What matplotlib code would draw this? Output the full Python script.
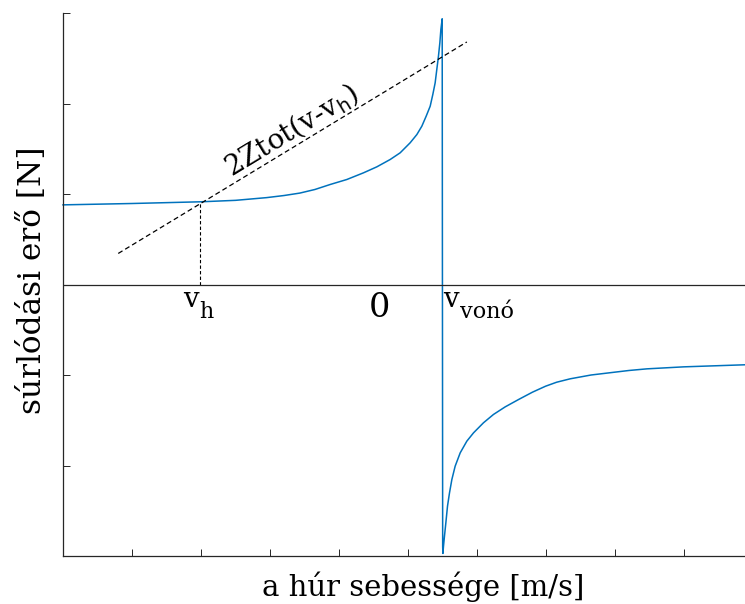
import numpy as np
import matplotlib.pyplot as plt

plt.rcParams['font.family'] = ['DejaVu Serif']

# súrlódási karakterisztika: tapadó ág (v < v_vonó)
v_tapad = [0.0, 1.0, 2.0, 2.5, 2.95, 3.2, 3.43, 3.65, 3.87, 4.111, 4.353, 4.546, 4.739, 4.884,
           5.029, 5.126, 5.198, 5.261, 5.319, 5.357, 5.391, 5.415, 5.439, 5.459, 5.474, 5.493]
F_tapad = [0.88, 0.895, 0.914, 0.93, 0.96, 0.983, 1.01, 1.05, 1.105, 1.160, 1.234, 1.300, 1.381,
           1.455, 1.566, 1.657, 1.749, 1.860, 1.970, 2.099, 2.228, 2.376, 2.523, 2.670, 2.818,
           2.936]
# csúszó ág (v > v_vonó)
v_csusz = [5.50, 5.503, 5.512, 5.526, 5.546, 5.570, 5.599, 5.633, 5.681, 5.754, 5.850, 5.947,
           6.091, 6.236, 6.406, 6.599, 6.80, 6.99, 7.15, 7.348, 7.65, 7.99, 8.2, 8.459, 8.99,
           9.88, 10.43]
F_csusz = [-2.90, -2.972, -2.891, -2.781, -2.634, -2.449, -2.302, -2.155, -2.007, -1.860, -1.731,
           -1.639, -1.528, -1.436, -1.352, -1.271, -1.19, -1.124, -1.08, -1.042, -1.0, -0.969,
           -0.95, -0.932, -0.91, -0.887, -0.88]

# terhelési egyenes 2Ztot(v - v_h)
egyenes_v = [0.80, 5.85]
egyenes_F = [0.343, 2.68]

v_h = 1.99
F_h = 0.914
x_ticks = list(range(0, 11))
y_ticks = list(range(-3, 4))

kek = '#0072BD'
szurke = '#262626'

fig = plt.figure(figsize=(7.45, 6.04), dpi=100)
ax = fig.add_axes([63 / 745, 48 / 604, 720 / 745, 543 / 604])

ax.plot(v_tapad + v_csusz, F_tapad + F_csusz, color=kek, lw=1.1, clip_on=False)
ax.plot(egyenes_v, egyenes_F, color='k', ls=(0, (4, 2.5)), lw=0.9)
ax.plot([v_h, v_h], [0, F_h], color='k', ls=(0, (3, 2)), lw=0.8)
ax.axhline(0, color=szurke, lw=0.9)

ax.set_xlim(0, 10.43)
ax.set_ylim(-3, 3)
ax.set_xticks(x_ticks)
ax.set_yticks(y_ticks)
ax.set_xticklabels([])
ax.set_yticklabels([])
ax.tick_params(direction='in', length=5, width=0.7, color=szurke)
for s in ['top', 'right']:
    ax.spines[s].set_visible(False)
for s in ['left', 'bottom']:
    ax.spines[s].set_color(szurke)
    ax.spines[s].set_linewidth(0.9)


def also_indexes(x, y, fo, also):
    # fő betű és alsó index külön szövegként
    ax.text(x, y, fo, fontsize=20, ha='left', va='baseline')
    ax.annotate(also, xy=(x, y), xytext=(11.8, -7.5), textcoords='offset points',
                fontsize=16, ha='left', va='baseline')


also_indexes(1.739, -0.254, 'v', 'h')
also_indexes(5.507, -0.254, 'v', 'vonó')
ax.text(4.58, -0.354, '0', fontsize=24, ha='center', va='baseline')

# egyenes felirata, az egyenessel párhuzamosan
p0 = ax.transData.transform((egyenes_v[0], egyenes_F[0]))
p1 = ax.transData.transform((egyenes_v[1], egyenes_F[1]))
szog = np.degrees(np.arctan2(p1[1] - p0[1], p1[0] - p0[0]))
ax.text(3.38, 1.62, r'2Ztot(v-v$_{\mathrm{h}}$)', fontsize=20, rotation=szog,
        rotation_mode='anchor', ha='center', va='baseline')

fig.text(423 / 745, 1 - 587 / 604, 'a húr sebessége [m/s]', fontsize=21, ha='center', va='center')
fig.text(33 / 745, 1 - 280 / 604, 'súrlódási erő [N]', fontsize=22.5, ha='center', va='center',
         rotation=90)

fig.savefig('out.png', dpi=100)
